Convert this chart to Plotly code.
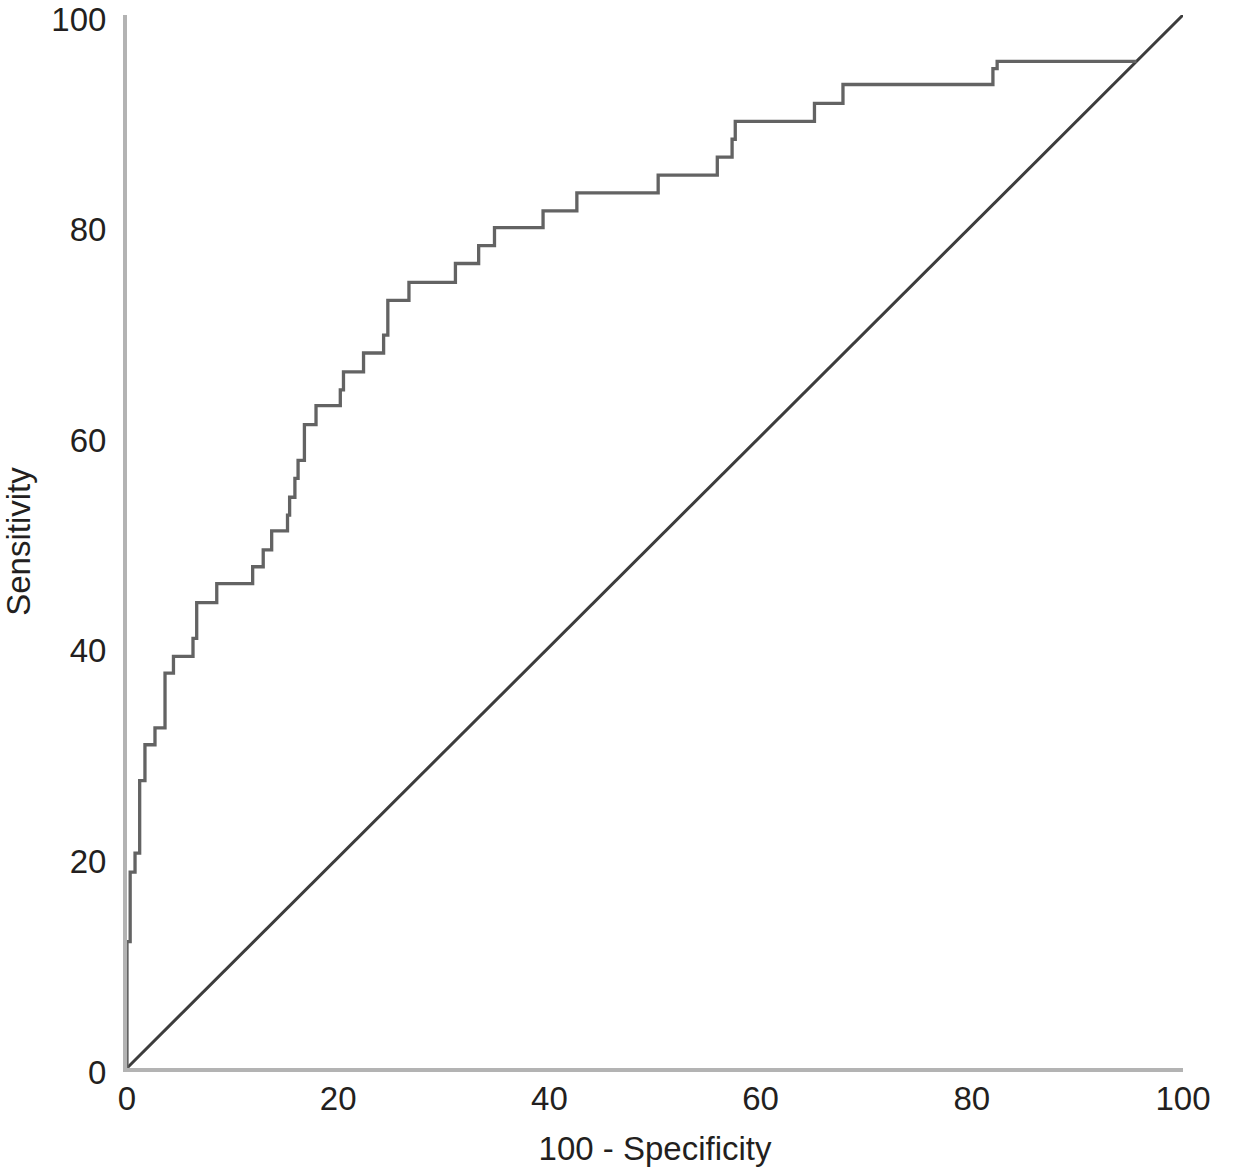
import plotly.graph_objects as go

# ROC curve points (100 - specificity, sensitivity)
fpr = [0, 0, 0.3, 0.76, 1.2, 1.7, 2.65, 3.6, 4.4, 6.25, 6.6, 8.5, 11.9, 12.9, 13.7,
       15.2, 15.4, 15.9, 16.2, 16.8, 17.9, 20.2, 20.5, 22.4, 24.3, 24.7, 26.7, 31.1,
       33.3, 34.8, 39.4, 42.6, 50.3, 55.9, 57.3, 57.6, 65.1, 67.8, 82.0, 82.4, 95.6]
sensitivity = [0, 12.0, 18.6, 20.4, 27.3, 30.7, 32.3, 37.5, 39.1, 40.8, 44.2, 46.0, 47.6,
               49.2, 51.0, 52.5, 54.2, 56.0, 57.7, 61.1, 62.9, 64.4, 66.1, 67.9, 69.6,
               72.9, 74.6, 76.4, 78.1, 79.8, 81.4, 83.1, 84.8, 86.5, 88.2, 89.9, 91.6,
               93.4, 94.9, 95.6, 95.6]

# Reference (chance) line
ref_x = [0, 100]
ref_y = [0, 100]

tick_vals = [0, 20, 40, 60, 80, 100]
tick_text = ["0", "20", "40", "60", "80", "100"]

font_family = "Liberation Sans, Arial, sans-serif"
text_color = "#231f20"

fig = go.Figure()
fig.add_trace(go.Scatter(x=ref_x, y=ref_y, mode="lines",
                         line=dict(color="#3c3c3c", width=3),
                         showlegend=False, hoverinfo="skip"))
fig.add_trace(go.Scatter(x=fpr, y=sensitivity, mode="lines",
                         line=dict(color="#636363", width=3.3, shape="hv"),
                         showlegend=False))

fig.update_layout(
    width=1237, height=1176,
    margin=dict(l=127, r=54, t=15, b=108),
    paper_bgcolor="white", plot_bgcolor="white",
    font=dict(family=font_family, size=33, color=text_color),
)
fig.update_xaxes(range=[0, 100], tickvals=tick_vals, ticktext=tick_text,
                 automargin=False,
                 showgrid=False, zeroline=False, showline=True,
                 linecolor="#b3b3b3", linewidth=4, ticks="",
                 ticklabelstandoff=-2, ticklabeloverflow="allow",
                 title=dict(text="100 - Specificity", standoff=22,
                            font=dict(size=33, color=text_color)),
                 tickfont=dict(size=33, color=text_color))
fig.update_yaxes(range=[0, 100], tickvals=tick_vals, ticktext=tick_text,
                 automargin=False,
                 showgrid=False, zeroline=False, showline=True,
                 linecolor="#b3b3b3", linewidth=4, ticks="",
                 ticklabelstandoff=10, ticklabelshift=4, ticklabeloverflow="allow",
                 title=dict(text="Sensitivity", standoff=17,
                            font=dict(size=33, color=text_color)),
                 tickfont=dict(size=33, color=text_color))

fig.write_html("out.html", config={"displayModeBar": False},
               post_script="document.body.style.margin='0';")
